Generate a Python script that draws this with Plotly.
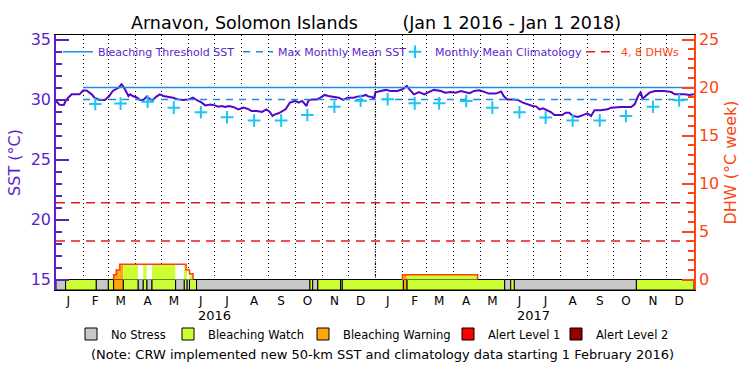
import pandas as pd
import plotly.graph_objects as go

# ---------------- data ----------------
period_start = "2016-01-01"
period_end = "2018-01-01"
year_boundary = "2017-01-01"

# daily SST (day offset from Jan 1 2016, value in deg C)
sst_day = [0, 4, 9, 11, 14, 18, 27, 31, 35, 41, 44, 50, 56, 61, 65, 69, 72, 75, 77, 80,
           83, 85, 88, 93, 96, 100, 104, 108, 111, 115, 119, 123, 129, 134, 140, 146, 152, 157, 161, 167,
           171, 177, 182, 186, 190, 194, 198, 203, 209, 215, 221, 224, 230, 236, 241, 245, 248, 251, 255, 259,
           263, 268, 274, 278, 282, 287, 289, 293, 299, 303, 308, 312, 318, 324, 329, 334, 341, 345, 351, 355,
           358, 362, 364, 366, 372, 378, 383, 391, 397, 402, 405, 410, 416, 422, 427, 433, 441, 446, 452, 458,
           464, 469, 474, 479, 485, 490, 496, 504, 510, 513, 517, 523, 529, 535, 540, 546, 550, 554, 558, 561,
           567, 571, 580, 584, 588, 592, 598, 603, 609, 613, 617, 624, 632, 636, 647, 659, 663, 667, 670, 672,
           676, 680, 686, 697, 705, 709, 720, 726, 731]
sst_value = [29.87, 29.57, 29.55, 29.87, 30.15, 30.43, 30.43, 30.76, 30.76, 30.43, 30.15, 29.96, 29.96, 30.29, 30.71, 30.90, 31.00, 31.26, 31.10, 30.70,
             30.29, 30.43, 30.29, 30.15, 29.96, 29.96, 30.24, 30.01, 29.96, 30.24, 30.43, 30.29, 30.24, 30.15, 30.01, 29.96, 30.01, 30.15, 29.96, 29.74,
             29.51, 29.58, 29.51, 29.40, 29.46, 29.38, 29.46, 29.38, 29.18, 29.32, 29.18, 29.04, 29.04, 28.96, 29.18, 28.96, 28.63, 28.76, 28.85, 29.04,
             29.18, 29.74, 29.88, 29.74, 29.88, 29.46, 29.88, 30.01, 30.01, 30.15, 30.38, 30.29, 30.24, 30.15, 29.96, 30.15, 30.15, 30.24, 30.29, 30.38,
             30.24, 30.22, 30.01, 30.60, 30.71, 30.80, 30.71, 30.71, 30.85, 31.13, 30.85, 30.43, 30.62, 30.43, 30.62, 30.80, 30.71, 30.57, 30.62, 30.57,
             30.71, 30.62, 30.52, 30.71, 30.76, 30.66, 30.49, 30.49, 30.66, 30.29, 30.01, 30.01, 29.96, 29.74, 29.60, 29.46, 29.43, 29.18, 29.26, 29.18,
             28.96, 28.71, 28.71, 28.90, 28.90, 28.63, 28.54, 28.68, 28.85, 28.63, 29.10, 29.10, 29.18, 29.32, 29.38, 29.38, 29.60, 30.29, 30.62, 30.07,
             30.29, 30.57, 30.71, 30.71, 30.62, 30.43, 30.43, 30.38, 30.43]

# monthly mean climatology (mid-month)
clim_date = ["2016-02-15", "2016-03-15", "2016-04-15", "2016-05-15", "2016-06-15", "2016-07-15",
             "2016-08-15", "2016-09-15", "2016-10-15", "2016-11-15", "2016-12-15", "2017-01-15",
             "2017-02-15", "2017-03-15", "2017-04-15", "2017-05-15", "2017-06-15", "2017-07-15",
             "2017-08-15", "2017-09-15", "2017-10-15", "2017-11-15", "2017-12-15"]
clim_value = [29.63, 29.66, 29.82, 29.32, 28.94, 28.52, 28.24, 28.24, 28.71, 29.40, 29.90, 30.02,
              29.68, 29.68, 29.88, 29.32, 28.94, 28.49, 28.26, 28.26, 28.63, 29.40, 29.93]

mmm_sst = 30.0
threshold_sst = 31.0
new_product_start = "2016-02-01"
dhw_levels = [4, 8]

# degree heating weeks (value holds from each date until the next)
dhw_date = ["2016-01-01", "2016-03-07", "2016-03-10", "2016-03-14", "2016-05-29", "2016-06-02",
            "2016-06-06", "2017-02-01", "2017-04-28"]
dhw_value = [0, 0.5, 1.0, 1.6, 1.0, 0.6, 0, 0.5, 0]

# bleaching alert stress level (level holds from each date until the next)
# 0 No Stress, 1 Watch, 2 Warning, 3 Alert 1, 4 Alert 2
stress_date = ["2016-01-01", "2016-01-12", "2016-02-16", "2016-03-01", "2016-03-07", "2016-03-18",
               "2016-04-04", "2016-04-10", "2016-04-14", "2016-04-20", "2016-05-17", "2016-05-27",
               "2016-05-30", "2016-06-02", "2016-06-10", "2016-10-18", "2016-10-21", "2016-10-27",
               "2016-11-22", "2016-11-24", "2017-02-02", "2017-02-06", "2017-05-29", "2017-06-05",
               "2017-06-09", "2017-10-27"]
stress_level = [0, 1, 0, 1, 2, 1,
                0, 1, 0, 1, 0, 1,
                0, 1, 0, 1, 0, 1,
                0, 1, 2, 1, 0, 1,
                0, 1]
stress_names = ["No Stress", "Bleaching Watch", "Bleaching Warning", "Alert Level 1", "Alert Level 2"]

month_mid = pd.date_range("2016-01-01", periods=24, freq="MS") + pd.Timedelta(days=14)
month_letters = ["J", "F", "M", "A", "M", "J", "J", "A", "S", "O", "N", "D"] * 2
year_labels = ["2016", "2017"]
year_centers = ["2016-07-01", "2017-07-01"]

# ---------------- styles ----------------
PURPLE = "#5b1fd0"
SST_COLOR = "#5208c8"
BLUE = "#1e8ce6"
CYAN = "#1ec4f4"
ORANGE_AX = "#ff4614"
RED = "#e81818"
stress_colors = ["#c8c8c8", "#ccff33", "#ffa50a", "#ff0000", "#960000"]
fill_colors = ["#ffffff", "#ccff33", "#ffa50a", "#ff0000", "#960000"]
FONT = "DejaVu Sans, Liberation Sans, sans-serif"

sst_range = [14.125, 35.375]
dhw_range = [(v - 15) * 1.25 for v in sst_range]

# plot geometry in pixels (fixed margins)
L, R, T, B = 56, 56, 35, 85
PW, PH = 750 - L - R, 375 - T - B


def px_x(p):
    return (p - L) / PW


def px_y(p):
    return (375 - B - p) / PH


t0 = pd.Timestamp(period_start)
t1 = pd.Timestamp(period_end)
sst_x = [t0 + pd.Timedelta(days=d) for d in sst_day]

fig = go.Figure()

# stress level bar along the bottom (each level has its own legend box)
stress_legend_x = [71, 168, 303, 448, 556]
st_dt = list(pd.to_datetime(stress_date))
st_end = st_dt[1:] + [t1]
for lv, name in enumerate(stress_names):
    xs, ws = [], []
    for s, e, l in zip(st_dt, st_end, stress_level):
        if l == lv:
            xs.append(s)
            ws.append((e - s).total_seconds() * 1000)
    if not xs:
        xs, ws = [None], [0]
    fig.add_trace(go.Bar(
        x=xs, y=[0 - dhw_range[0]] * len(xs), base=dhw_range[0], width=ws, offset=0,
        marker=dict(color=stress_colors[lv], line=dict(color="black", width=1)),
        name=name, yaxis="y2", legend="legend%d" % (5 + lv), hoverinfo="skip"))

# DHW area, coloured by stress level
dhw_dt = list(pd.to_datetime(dhw_date))
dhw_end = dhw_dt[1:] + [t1]
fx, fw, fh, fc = [], [], [], []
for a, b, v in zip(dhw_dt, dhw_end, dhw_value):
    if v <= 0:
        continue
    for s, e, l in zip(st_dt, st_end, stress_level):
        lo, hi = max(a, s), min(b, e)
        if lo < hi:
            fx.append(lo)
            fw.append((hi - lo).total_seconds() * 1000)
            fh.append(v)
            fc.append(fill_colors[l])
fig.add_trace(go.Bar(x=fx, y=fh, base=0, width=fw, offset=0, yaxis="y2",
                     marker=dict(color=fc, line=dict(width=0)), showlegend=False, hoverinfo="skip"))

# DHW outline (step)
ox, oy = [], []
prev = 0
for a, b, v in zip(dhw_dt, dhw_end, dhw_value):
    if v > 0:
        if prev == 0:
            ox.append(a); oy.append(0)
        ox += [a, b]; oy += [v, v]
    elif prev > 0:
        ox += [a, None]; oy += [0, None]
    prev = v
fig.add_trace(go.Scatter(x=ox, y=oy, mode="lines", yaxis="y2",
                         line=dict(color="#ff3c14", width=1.5), showlegend=False, hoverinfo="skip"))

# SST
fig.add_trace(go.Scatter(x=sst_x, y=sst_value, mode="lines", line=dict(color=SST_COLOR, width=2),
                         showlegend=False, name="SST"))
# threshold and MMM
fig.add_trace(go.Scatter(x=[new_product_start, period_end], y=[threshold_sst] * 2, mode="lines",
                         line=dict(color=BLUE, width=1.5), name="Bleaching Threshold SST",
                         legend="legend"))
fig.add_trace(go.Scatter(x=[new_product_start, period_end], y=[mmm_sst] * 2, mode="lines",
                         line=dict(color=BLUE, width=1.5, dash="7px,6px"), name="Max Monthly Mean SST",
                         legend="legend2"))
fig.add_trace(go.Scatter(x=clim_date, y=clim_value, mode="markers",
                         marker=dict(symbol="cross-thin", size=9, line=dict(color=CYAN, width=2)),
                         name="Monthly Mean Climatology", legend="legend3"))
# DHW 4 and 8 reference lines
lx, ly = [], []
for lv in dhw_levels:
    lx += [period_start, period_end, None]
    ly += [lv, lv, None]
fig.add_trace(go.Scatter(x=lx, y=ly, mode="lines", yaxis="y2",
                         line=dict(color=RED, width=1.5, dash="9px,6px"),
                         name="4, 8 DHWs", legend="legend4"))

top_legend = dict(orientation="h", xanchor="left", y=px_y(51.7), yanchor="middle",
                  bgcolor="rgba(0,0,0,0)", borderwidth=0, itemwidth=30)
bottom_legend = dict(orientation="h", xanchor="left", y=px_y(334), yanchor="middle",
                     bgcolor="rgba(0,0,0,0)", borderwidth=0, itemwidth=30,
                     font=dict(size=11.5, color="black", family=FONT))
legends = {
    "legend": dict(top_legend, x=px_x(58), font=dict(size=11, color=PURPLE, family=FONT)),
    "legend2": dict(top_legend, x=px_x(238), font=dict(size=11, color=PURPLE, family=FONT)),
    "legend3": dict(top_legend, x=px_x(395), font=dict(size=11, color=PURPLE, family=FONT)),
    "legend4": dict(top_legend, x=px_x(581), font=dict(size=11, color=ORANGE_AX, family=FONT)),
}
for lv, xp in enumerate(stress_legend_x):
    legends["legend%d" % (5 + lv)] = dict(bottom_legend, x=px_x(xp))

fig.update_layout(
    width=750, height=375,
    margin=dict(l=L, r=R, t=T, b=B, autoexpand=False),
    plot_bgcolor="white", paper_bgcolor="white",
    font=dict(family=FONT, size=12, color="black"),
    barmode="overlay",
    title=dict(text="Arnavon, Solomon Islands" + "\u00a0" * 8 + "(Jan 1 2016 - Jan 1 2018)",
               x=376 / 750, xref="container", xanchor="center", y=1 - 23 / 375, yref="container",
               yanchor="middle", font=dict(size=17.5, color="black", family=FONT)),
    xaxis=dict(type="date", range=[period_start, period_end], tickmode="array",
               tickvals=month_mid, ticktext=month_letters, ticks="", showgrid=False,
               showline=True, linecolor="black", linewidth=1, mirror=True, zeroline=False,
               automargin=False, tickfont=dict(size=12, color="black"),
               minor=dict(tickmode="linear", tick0=period_start, dtick="M1", showgrid=True,
                          gridcolor="black", griddash="1px,3px", gridwidth=1, ticks="")),
    yaxis=dict(range=sst_range, tickmode="linear", tick0=15, dtick=5, ticks="inside", ticklen=13,
               tickwidth=1.5, tickcolor=PURPLE, showline=True, linecolor=PURPLE, linewidth=1.5,
               showgrid=False, zeroline=False, automargin=False, tickfont=dict(size=16, color=PURPLE),
               title=dict(text="SST (°C)", font=dict(size=16, color=PURPLE), standoff=6),
               minor=dict(tickmode="linear", tick0=15, dtick=1, ticks="inside", ticklen=6,
                          tickcolor=PURPLE, tickwidth=1.5, showgrid=False)),
    yaxis2=dict(range=dhw_range, overlaying="y", side="right", tickmode="linear", tick0=0, dtick=5,
                ticks="inside", ticklen=12, tickwidth=1.5, tickcolor=ORANGE_AX, showline=True,
                linecolor=ORANGE_AX, linewidth=1.5, showgrid=False, zeroline=False, automargin=False,
                tickfont=dict(size=16, color=ORANGE_AX),
                title=dict(text="DHW (°C week)", font=dict(size=16, color=ORANGE_AX), standoff=6),
                minor=dict(tickmode="array", tickvals=list(range(1, 26)), ticks="inside", ticklen=6,
                           tickcolor=ORANGE_AX, tickwidth=1.5, showgrid=False)),
    showlegend=True,
    shapes=[
        dict(type="rect", xref="paper", yref="paper", x0=0, x1=1, y0=px_y(62), y1=1,
             fillcolor="white", line=dict(width=0), layer="between"),
        dict(type="line", xref="x", yref="paper", x0=year_boundary, x1=year_boundary,
             y0=0, y1=px_y(62), line=dict(color="black", width=1.2, dash="1px,1.5px"), layer="between"),
    ],
    **legends,
)

for lab, c in zip(year_labels, year_centers):
    fig.add_annotation(x=c, xref="x", y=px_y(315), yref="paper", yanchor="middle", text=lab,
                       showarrow=False, font=dict(size=13, color="black"))
fig.add_annotation(x=px_x(383), xref="paper", y=px_y(354), yref="paper", yanchor="middle",
                   text="(Note: CRW implemented new 50-km SST and climatology data starting 1 February 2016)",
                   showarrow=False, font=dict(size=13, color="black"))

fig.write_html("out.html", config={"displayModeBar": False},
               post_script="document.body.style.margin='0px';")
